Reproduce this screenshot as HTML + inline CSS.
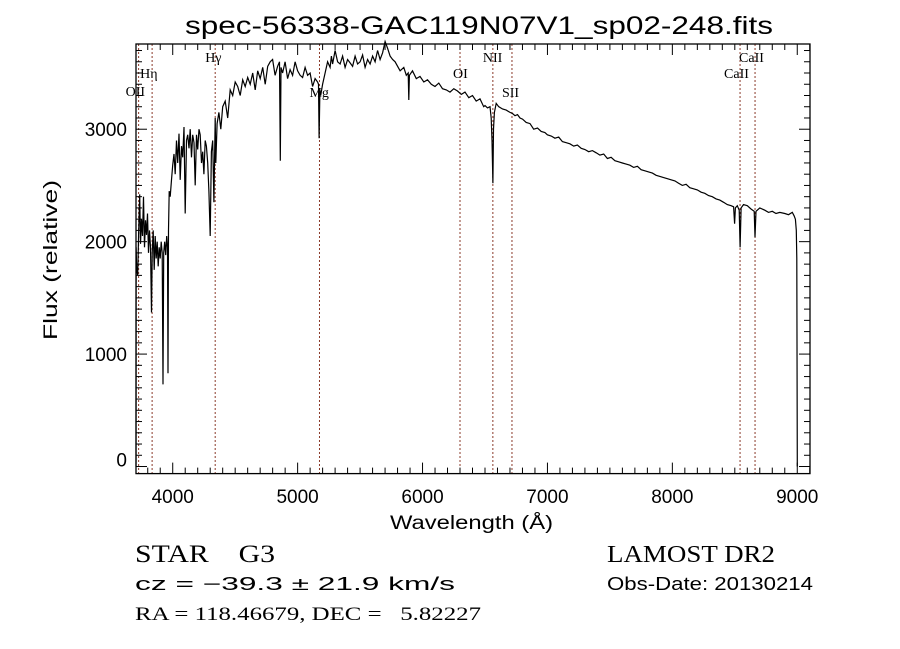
<!DOCTYPE html>
<html><head><meta charset="utf-8"><style>
html,body{margin:0;padding:0;background:#fff;}
svg{display:block;}
text{font-family:"Liberation Sans",sans-serif;fill:#000;white-space:pre;}
text.sf{font-family:"Liberation Serif",serif;}
</style></head><body>
<svg id="chart" width="900" height="649" viewBox="0 0 900 649" xmlns="http://www.w3.org/2000/svg" xml:space="preserve">
<rect width="900" height="649" fill="#fff"/>
<text x="185" y="34" font-size="25" textLength="588" lengthAdjust="spacingAndGlyphs">spec-56338-GAC119N07V1_sp02-248.fits</text>
<g id="lines"></g>
<g id="axes"></g>
<path id="spec" fill="none" stroke="#000" stroke-width="1.2"/>
<text x="390" y="529" font-size="19" textLength="163" lengthAdjust="spacingAndGlyphs">Wavelength (Å)</text>
<text transform="translate(57,340) rotate(-90)" font-size="19" textLength="160" lengthAdjust="spacingAndGlyphs">Flux (relative)</text>
<text class="sf" x="135" y="562" font-size="25" textLength="140" lengthAdjust="spacingAndGlyphs">STAR    G3</text>
<text class="sf" x="607" y="562" font-size="24" textLength="168" lengthAdjust="spacingAndGlyphs">LAMOST DR2</text>
<text x="135" y="590" font-size="18" textLength="320" lengthAdjust="spacingAndGlyphs">cz = −39.3 ± 21.9 km/s</text>
<text x="607" y="590" font-size="18" textLength="206" lengthAdjust="spacingAndGlyphs">Obs-Date: 20130214</text>
<text class="sf" x="135" y="620" font-size="19" textLength="346" lengthAdjust="spacingAndGlyphs">RA = 118.46679, DEC =   5.82227</text>
</svg>
<script>
const waveBlue=[3706,3707,3712,3720,3728,3736,3742,3750,3758,3766,3774,3782,3790,3798,3806,3814,3822,3830,3836,3844,3852,3860,3868,3876,3884,3892,3900,3908,3916,3922,3928,3936,3944,3952,3958,3962,3966,3972,3980,3990,4000];
const fluxBlue=[0,1950,1760,1700,2100,2420,1980,2200,2050,2400,1950,2190,2060,2250,1900,2100,1950,1370,1900,2100,1750,2050,1850,2000,1780,1950,1850,2000,1900,730,1900,2000,1880,2050,1950,830,2100,2450,2400,2550,2680];
const waveB=[4010,4020,4030,4040,4050,4060,4070,4080,4090,4100,4110,4120,4130,4140,4150,4160,4170,4180,4190,4200,4210,4220,4230,4240,4250,4260,4270,4280,4290,4300,4310,4320,4330,4340,4345,4355,4370,4385,4400];
const fluxB=[2780,2600,2900,2700,2960,2550,2850,2750,3020,2250,2900,2950,2830,3000,2750,2950,2880,2500,2950,2820,3000,2950,2700,2800,2600,2900,2850,2700,2450,2050,2800,2900,2350,3100,2700,3050,3150,3000,3200];
const waveC=[4420,4440,4460,4480,4500,4520,4540,4560,4580,4600,4620,4640,4660,4680,4700,4720,4740,4760,4780,4800,4820,4840,4855,4861,4867,4880,4900,4920,4940,4960,4980,5000,5020,5040,5060,5080,5100,5120,5140,5160,5167,5172,5178,5185,5200,5220,5240,5260,5270,5280,5300,5320,5340,5360,5380,5400,5420,5440,5460,5480,5500,5520,5540,5560,5580,5600,5620,5640,5660,5680,5700,5720,5740,5760,5780,5800];
const fluxC=[3250,3100,3350,3300,3420,3380,3300,3440,3380,3460,3400,3500,3350,3520,3450,3550,3400,3560,3600,3620,3480,3560,3600,2720,3550,3500,3600,3450,3530,3480,3600,3520,3480,3460,3550,3480,3500,3380,3450,3420,3400,2920,3350,3300,3400,3500,3600,3550,3650,3580,3700,3600,3580,3650,3550,3620,3590,3560,3650,3580,3600,3660,3550,3620,3580,3650,3600,3700,3620,3680,3780,3720,3650,3620,3600,3560];
const waveD=[5820,5850,5870,5885,5890,5895,5920,5950,5980,6010,6040,6070,6100,6130,6160,6190,6220,6250,6280,6310,6340,6370,6400,6430,6460,6490,6500,6520,6540,6550,6556,6563,6568,6575,6590,6610,6640,6670,6700,6720,6740,6760,6780,6800,6830,6860,6890,6920,6950,6980,7000,7030,7060,7090,7120,7150,7180,7210,7240,7270,7300,7330,7360,7390,7420,7450,7480,7510,7540,7570,7600,7630,7660,7690,7720,7750,7780,7810,7840,7870,7900,7930,7960,7990,8020,8050,8080,8110,8140,8170,8200,8230,8260,8290,8320,8350,8380,8410,8440,8470,8490,8498,8505,8520,8535,8542,8550,8570,8600,8630,8655,8662,8670,8700,8740,8770,8800,8830,8860,8900,8930,8960,8975,8985,8992,8996,9000];
const fluxD=[3520,3550,3480,3500,3260,3480,3520,3450,3470,3420,3440,3400,3380,3410,3360,3350,3330,3360,3340,3310,3330,3280,3300,3250,3270,3200,3210,3190,3200,3100,2900,2520,3000,3150,3230,3200,3180,3170,3150,3140,3120,3130,3100,3090,3060,3050,3000,3010,2980,2970,2950,2940,2920,2930,2890,2880,2870,2850,2860,2830,2820,2800,2810,2790,2770,2780,2740,2750,2720,2710,2700,2690,2680,2660,2670,2640,2630,2620,2610,2590,2580,2570,2560,2550,2540,2520,2500,2510,2480,2470,2460,2440,2430,2410,2400,2380,2370,2350,2330,2320,2310,2160,2300,2320,2280,1950,2300,2330,2320,2290,2270,2040,2270,2300,2280,2260,2270,2250,2260,2250,2240,2260,2230,2200,2100,1850,0];
const lineNames=["OII","Hη","Hγ","Mg","OI","NII","SII","CaII","CaII"];
const lineWaves=[3727,3835,4340,5175,6300,6563,6716,8542,8662];
const xTicks=[4000,5000,6000,7000,8000,9000];
const yTicks=[0,1000,2000,3000];
const X0=3706,X1=9102,Y0=-63,Y1=3758;
const L=136,R=810,T=44,B=473.6;
const xs=w=>L+(w-X0)/(X1-X0)*(R-L);
const ys=f=>B-(f-Y0)/(Y1-Y0)*(B-T);
const NS="http://www.w3.org/2000/svg";
function mk(tag,attrs,parent){const e=document.createElementNS(NS,tag);for(const k in attrs)e.setAttribute(k,attrs[k]);parent.appendChild(e);return e;}
const waves=waveBlue.concat(waveB,waveC,waveD);
const flux=fluxBlue.concat(fluxB,fluxC,fluxD);
let d="";
for(let i=0;i<waves.length;i++){d+=(i?"L":"M")+xs(waves[i]).toFixed(1)+","+ys(Math.max(flux[i],Y0)).toFixed(1);}
document.getElementById("spec").setAttribute("d",d);
const lg=document.getElementById("lines");
const labelY=[96,78,62,97,78,62,97,78,62];
const labelDx=[-13,-12,-10,-10,-7,-10,-10,-16,-16];
for(let i=0;i<lineWaves.length;i++){
  const x=xs(lineWaves[i]);
  const ln=mk("line",{x1:x,x2:x,y1:T,y2:B,stroke:"#8b3a2a","stroke-width":1,"stroke-dasharray":"2,2"},lg);
  
  
  const t=mk("text",{x:x+labelDx[i],y:labelY[i],"font-size":14,"class":"sf"},lg);
  
  
  t.textContent=lineNames[i];
}
const ax=document.getElementById("axes");
mk("rect",{x:L,y:T,width:R-L,height:B-T,fill:"none",stroke:"#000","stroke-width":1.3},ax);
for(let w=3800;w<=9100;w+=100){
  const x=xs(w);const major=w%1000===0;const len=major?11:6;
  mk("line",{x1:x,x2:x,y1:B,y2:B-len,stroke:"#000"},ax);
  mk("line",{x1:x,x2:x,y1:T,y2:T+len,stroke:"#000"},ax);
}
for(const w of xTicks){
  const t=mk("text",{x:xs(w),y:503,"font-size":19,"text-anchor":"middle"},ax);
  
  
  t.textContent=w;
}
for(let f=0;f<=3700;f+=100){
  const y=ys(f);const major=f%1000===0;const len=major?11:6;
  mk("line",{x1:L,x2:L+len,y1:y,y2:y,stroke:"#000"},ax);
  mk("line",{x1:R,x2:R-len,y1:y,y2:y,stroke:"#000"},ax);
}
for(const f of yTicks){
  const t=mk("text",{x:127,y:ys(f)+(f===0?0:7),"font-size":19,"text-anchor":"end"},ax);
  
  
  t.textContent=f;
}
</script>
</body></html>
